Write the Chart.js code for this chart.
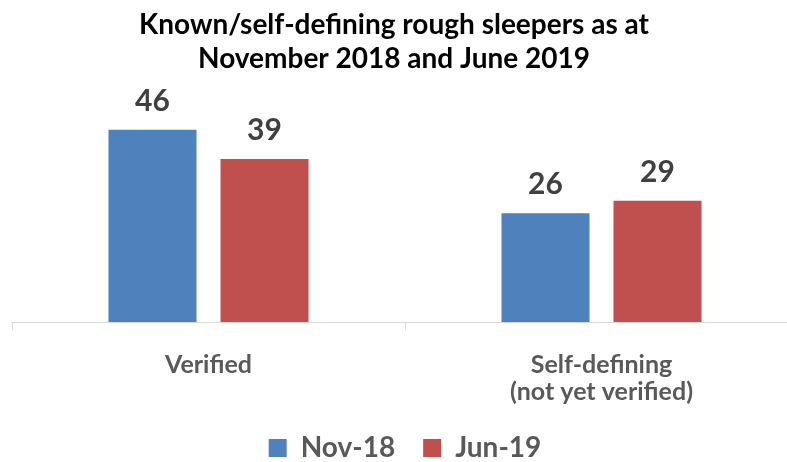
<!DOCTYPE html>
<html>
<head>
<meta charset="utf-8">
<script src="https://cdn.jsdelivr.net/npm/chart.js@4"></script>
<style>
  html, body { margin: 0; padding: 0; background: #fff; overflow: hidden; }
  #wrap { width: 787px; height: 462px; overflow: hidden; }
</style>
</head>
<body>
<div id="wrap"><canvas id="roughChart" width="810" height="472"></canvas></div>
<script>
const titleLines = ['Known/self-defining rough sleepers as at', 'November 2018 and June 2019'];
const categories = ['Verified', ['Self-defining', '(not yet verified)']];
const seriesNames = ['Nov-18', 'Jun-19'];
const nov18 = [46, 26];
const jun19 = [39, 29];

const FONT = 'Lato, "DejaVu Sans", sans-serif';

// two-line title, centred on the picture rather than on the plot
const titlePlugin = {
    id: 'topTitle',
    afterDraw(chart) {
        const ctx = chart.ctx;
        ctx.save();
        ctx.font = 'bold 28px ' + FONT;
        ctx.fillStyle = '#000000';
        ctx.textAlign = 'center';
        ctx.textBaseline = 'alphabetic';
        ctx.fillText(titleLines[0], 394, 34);
        ctx.fillText(titleLines[1], 394, 68);
        ctx.restore();
    }
};

// value above each bar
const valuePlugin = {
    id: 'barValues',
    afterDatasetsDraw(chart) {
        const ctx = chart.ctx;
        ctx.save();
        ctx.font = 'bold 30px ' + FONT;
        ctx.fillStyle = '#404040';
        ctx.textAlign = 'center';
        ctx.textBaseline = 'alphabetic';
        chart.data.datasets.forEach((ds, i) => {
            chart.getDatasetMeta(i).data.forEach((bar, j) => {
                ctx.fillText(ds.data[j], bar.x, bar.y - 19);
            });
        });
        ctx.restore();
    }
};

const ctx = document.getElementById('roughChart').getContext('2d');

new Chart(ctx, {
    type: 'bar',
    data: {
        labels: categories,
        datasets: [
            {
                label: seriesNames[0],
                data: nov18,
                backgroundColor: '#4F81BD',
                categoryPercentage: 0.57,
                barPercentage: 0.786
            },
            {
                label: seriesNames[1],
                data: jun19,
                backgroundColor: '#C0504D',
                categoryPercentage: 0.57,
                barPercentage: 0.786
            }
        ]
    },
    options: {
        responsive: false,
        animation: false,
        devicePixelRatio: 1,
        layout: {
            padding: { top: 113, left: 12, right: 12, bottom: 0 }
        },
        plugins: {
            title: { display: false },
            tooltip: { enabled: false },
            legend: {
                position: 'bottom',
                labels: {
                    boxWidth: 18,
                    boxHeight: 18,
                    padding: 28,
                    color: '#595959',
                    font: { family: FONT, size: 28, weight: 'bold' }
                }
            }
        },
        scales: {
            x: {
                grid: {
                    offset: true,
                    drawOnChartArea: false,
                    drawTicks: true,
                    tickLength: 8,
                    color: '#D9D9D9'
                },
                border: { color: '#D9D9D9' },
                ticks: {
                    color: '#595959',
                    padding: 21,
                    maxRotation: 0,
                    font: { family: FONT, size: 25, weight: 'bold', lineHeight: 1.08 }
                },
                afterFit(scale) {
                    scale.height = 84;
                }
            },
            y: {
                display: false,
                min: 0,
                max: 50
            }
        }
    },
    plugins: [titlePlugin, valuePlugin]
});
</script>
</body>
</html>
